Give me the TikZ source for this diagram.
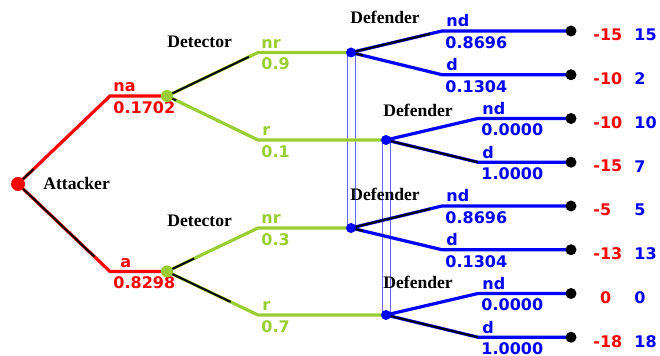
\documentclass[tikz,border=0pt]{standalone}
\usepackage{fontspec}
\usepackage{tikz}
\usetikzlibrary{calc}
\newfontfamily\branchfont{DejaVu Sans}
\newfontfamily\playerfont{Liberation Serif}

\definecolor{attred}{RGB}{255,0,0}
\definecolor{detgreen}{RGB}{154,205,50}
\definecolor{defblue}{RGB}{0,0,255}
\definecolor{isetblue}{RGB}{100,100,255}

\begin{document}
\begin{tikzpicture}[x=0.5pt, y=-0.5pt,
    branch/.style={line width=1.6pt},
    play/.style={black, line width=1pt},
    iset/.style={isetblue, line width=0.5pt},
    dot/.style={circle, fill, inner sep=0pt, minimum size=6pt},
    player/.style={font=\playerfont\fontsize{8.8}{10}\selectfont\bfseries, inner sep=0pt, anchor=west},
    act/.style={font=\branchfont\fontsize{8}{9}\selectfont\bfseries, inner sep=0pt}]
        \useasboundingbox (0,0) rectangle (660,356);

        % decision points and leaves
        \coordinate (root) at (18,184);
        \coordinate (det1) at (167,96);
        \coordinate (det2) at (167,271.5);
        \coordinate (def1) at (351,52.5);
        \coordinate (def2) at (386,140);
        \coordinate (def3) at (351,228);
        \coordinate (def4) at (386,315);
        \foreach \i/\y in {1/31,2/74.75,3/118.5,4/162.25,5/206,6/249.75,7/293.5,8/337.25}
          \coordinate (t\i) at (571,\y);

        % corners of the branches
        \coordinate (cna) at (110,96);
        \coordinate (ca) at (110,271.5);
        \coordinate (c1nr) at (258,52.5);
        \coordinate (c1r) at (258,140);
        \coordinate (c2nr) at (258,228);
        \coordinate (c2r) at (258,315);
        \coordinate (e1nd) at (442,31);
        \coordinate (e1d) at (442,74.75);
        \coordinate (e2nd) at (478,118.5);
        \coordinate (e2d) at (478,162.25);
        \coordinate (e3nd) at (442,206);
        \coordinate (e3d) at (442,249.75);
        \coordinate (e4nd) at (478,293.5);
        \coordinate (e4d) at (478,337.25);

        % information sets
        \draw[iset] ($(def1)+(-4,0)$) -- ($(def3)+(-4,0)$);
        \draw[iset] ($(def1)+(4,0)$) -- ($(def3)+(4,0)$);
        \draw[iset] ($(def2)+(-4,0)$) -- ($(def4)+(-4,0)$);
        \draw[iset] ($(def2)+(4,0)$) -- ($(def4)+(4,0)$);

        \foreach \a/\c/\b/\col in {root/cna/det1/attred, root/ca/det2/attred,
            det1/c1nr/def1/detgreen, det1/c1r/def2/detgreen,
            det2/c2nr/def3/detgreen, det2/c2r/def4/detgreen,
            def1/e1nd/t1/defblue, def1/e1d/t2/defblue,
            def2/e2nd/t3/defblue, def2/e2d/t4/defblue,
            def3/e3nd/t5/defblue, def3/e3d/t6/defblue,
            def4/e4nd/t7/defblue, def4/e4d/t8/defblue}
          \draw[branch,\col] (\a) -- (\c) -- (\b);

        % behaviour probabilities
        \foreach \a/\c/\p in {root/cna/0.1702, root/ca/0.8298,
            det1/c1nr/0.9, det1/c1r/0.1, det2/c2nr/0.3, det2/c2r/0.7,
            def1/e1nd/0.8696, def1/e1d/0.1304, def2/e2d/1,
            def3/e3nd/0.8696, def3/e3d/0.1304, def4/e4d/1}
          \draw[play] (\a) -- ($(\a)!\p!(\c)$);

        \foreach \c/\up/\dn/\col/\dx in {cna/na/0.1702/attred/3, ca/a/0.8298/attred/10,
            c1nr/nr/0.9/detgreen/3, c1r/r/0.1/detgreen/4,
            c2nr/nr/0.3/detgreen/3, c2r/r/0.7/detgreen/4,
            e1nd/nd/0.8696/defblue/4, e1d/d/0.1304/defblue/4,
            e2nd/nd/0.0000/defblue/4, e2d/d/1.0000/defblue/4,
            e3nd/nd/0.8696/defblue/4, e3d/d/0.1304/defblue/4,
            e4nd/nd/0.0000/defblue/4, e4d/d/1.0000/defblue/4}
        {
          \node[act, \col, anchor=base west] (l\c) at ($(\c)+(\dx,-4)$) {\up};
          \node[act, \col, anchor=north west] (p\c) at ($(\c)+(3,5)$) {\dn};
        }

        % payoffs
        \foreach \i/\u/\v in {1/-15/15, 2/-10/2, 3/-10/10, 4/-15/7,
            5/-5/5, 6/-13/13, 7/\phantom{-}0/0, 8/-18/18}
        {
          \node[act, attred, anchor=west] (ua\i) at ($(t\i)+(22,4)$) {\u};
          \node[act, defblue, anchor=west] (ub\i) at ($(t\i)+(63,4)$) {\v};
        }

        \node[dot, attred, minimum size=7pt] (nroot) at (root) {};
        \node[dot, detgreen] (ndet1) at (det1) {};
        \node[dot, detgreen] (ndet2) at (det2) {};
        \foreach \i in {1,...,4}
          \node[dot, defblue, minimum size=5pt] (ndef\i) at (def\i) {};
        \foreach \i in {1,...,8}
          \node[dot, black, minimum size=5.5pt] (nt\i) at (t\i) {};

        \node[player] (lblatt) at ($(root)+(25,-1)$) {Attacker};
        \node[player] (lbldet1) at ($(det1)+(0,-54)$) {Detector};
        \node[player] (lbldet2) at ($(det2)+(0,-51)$) {Detector};
        \node[player] (lbldef1) at ($(def1)+(-1,-35)$) {Defender};
        \node[player] (lbldef2) at ($(def2)+(-3,-30)$) {Defender};
        \node[player] (lbldef3) at ($(def3)+(-1,-34)$) {Defender};
        \node[player] (lbldef4) at ($(def4)+(-3,-33)$) {Defender};
\end{tikzpicture}
\end{document}
